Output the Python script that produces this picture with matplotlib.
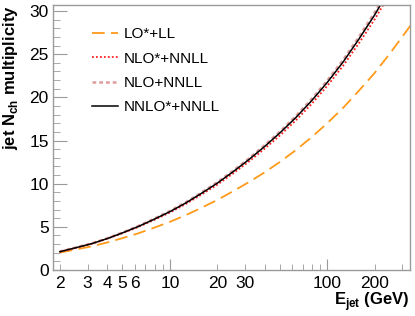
import numpy as np
import matplotlib
matplotlib.use("Agg")
import matplotlib.pyplot as plt
from matplotlib.lines import Line2D

plt.rcParams['font.family'] = ['Liberation Sans', 'DejaVu Sans']
plt.rcParams['mathtext.fontset'] = 'custom'
plt.rcParams['mathtext.rm'] = 'Liberation Sans'
plt.rcParams['mathtext.bf'] = 'Liberation Sans:bold'

# =========================
# data
# =========================
e_jet = [2.0, 2.5, 3.2, 4.0, 5.0, 6.3, 7.9, 10, 12.6, 15.8, 20, 25.1, 31.6, 39.8, 50.1,
         63.1, 79.4, 100, 126, 158, 200, 251]

e_lo = e_jet + [316, 340]
n_lo = [2.02, 2.36, 2.75, 3.19, 3.69, 4.25, 4.88, 5.58, 6.35, 7.19, 8.11, 9.11, 10.16,
        11.29, 12.53, 13.89, 15.38, 17.01, 18.79, 20.73, 22.84, 25.13, 27.61, 28.4]

n_nlo_star = [2.10, 2.54, 3.04, 3.62, 4.26, 4.98, 5.78, 6.66, 7.64, 8.71, 9.88, 11.16,
              12.53, 14.02, 15.60, 17.33, 19.23, 21.34, 23.66, 26.22, 29.04, 32.10]

n_nlo = [2.14, 2.58, 3.09, 3.67, 4.34, 5.09, 5.92, 6.83, 7.84, 8.95, 10.16, 11.47,
         12.88, 14.42, 16.05, 17.83, 19.79, 21.95, 24.33, 26.95, 29.84, 32.96]

n_nnlo = [2.12, 2.56, 3.06, 3.64, 4.30, 5.04, 5.86, 6.76, 7.76, 8.86, 10.06, 11.36,
          12.76, 14.28, 15.90, 17.66, 19.60, 21.74, 24.10, 26.70, 29.56, 32.66]

labels = ["LO*+LL", "NLO*+NNLL", "NLO+NNLL", "NNLO*+NNLL"]

x_major = [10, 100]
x_minor = [2, 3, 4, 5, 6, 7, 8, 9, 20, 30, 40, 50, 60, 70, 80, 90, 200, 300]
x_minor_labels = ["2", "3", "4", "5", "6", "", "", "", "20", "30", "", "", "", "", "", "",
                  "200", ""]

# =========================
# 画图
# =========================
fig = plt.figure(figsize=(4.15, 3.16), dpi=100)
ax = fig.add_axes([53 / 415, 1 - 270 / 316, (410 - 53) / 415, (270 - 5) / 316])

sty_lo = dict(color='#ff9a1a', lw=1.3, ls=(0, (7, 3.5)))
sty_nlo_star = dict(color='#ff2020', lw=1.3, ls=(0, (1, 1.2)))
sty_nlo = dict(color='#c85a5a', lw=1.8, alpha=0.6, ls=(0, (1.5, 1.2)))
sty_nnlo = dict(color='black', lw=1.1)

ax.plot(e_lo, n_lo, **sty_lo)
ax.plot(e_jet, n_nlo_star, **sty_nlo_star)
ax.plot(e_jet, n_nlo, **sty_nlo)
ax.plot(e_jet, n_nnlo, **sty_nnlo)

ax.set_xscale('log')
ax.set_xlim(1.81, 335)
ax.set_ylim(0, 30.7)

ax.set_xticks(x_major)
ax.set_xticklabels(["10", "100"])
ax.set_xticks(x_minor, minor=True)
ax.set_xticklabels(x_minor_labels, minor=True)
ax.set_yticks(np.arange(0, 31, 5))
ax.set_yticks(np.arange(0, 31, 1), minor=True)

gray = '#9a9a9a'
for s in ax.spines.values():
    s.set_color(gray)
    s.set_linewidth(1.0)
ax.tick_params(which='both', direction='in', color=gray, labelsize=12.5, labelcolor='black')
ax.tick_params(axis='y', which='major', length=10, pad=3)
ax.tick_params(axis='y', which='minor', length=5)
ax.tick_params(axis='x', which='major', length=8, pad=4)
ax.tick_params(axis='x', which='minor', length=4, pad=4)

ax.set_ylabel(r"jet N$_{\mathbf{ch}}$ multiplicity", fontsize=12, fontweight='bold',
              loc='top', labelpad=7)
fig.text(410 / 415, 1 - 305 / 316, r"$\mathbf{E}_{\mathbf{jet}}$ (GeV)", fontsize=12,
         fontweight='bold', ha='right', va='baseline')

handles = [Line2D([], [], **sty_lo), Line2D([], [], **sty_nlo_star),
           Line2D([], [], **sty_nlo), Line2D([], [], **sty_nnlo)]
ax.legend(handles, labels, loc='upper left', bbox_to_anchor=(86 / 415, 1 - 21 / 316),
          bbox_transform=fig.transFigure, frameon=False, fontsize=11,
          handlelength=1.7, handletextpad=0.35, labelspacing=0.68, borderaxespad=0)

fig.savefig("out.png", dpi=100)
